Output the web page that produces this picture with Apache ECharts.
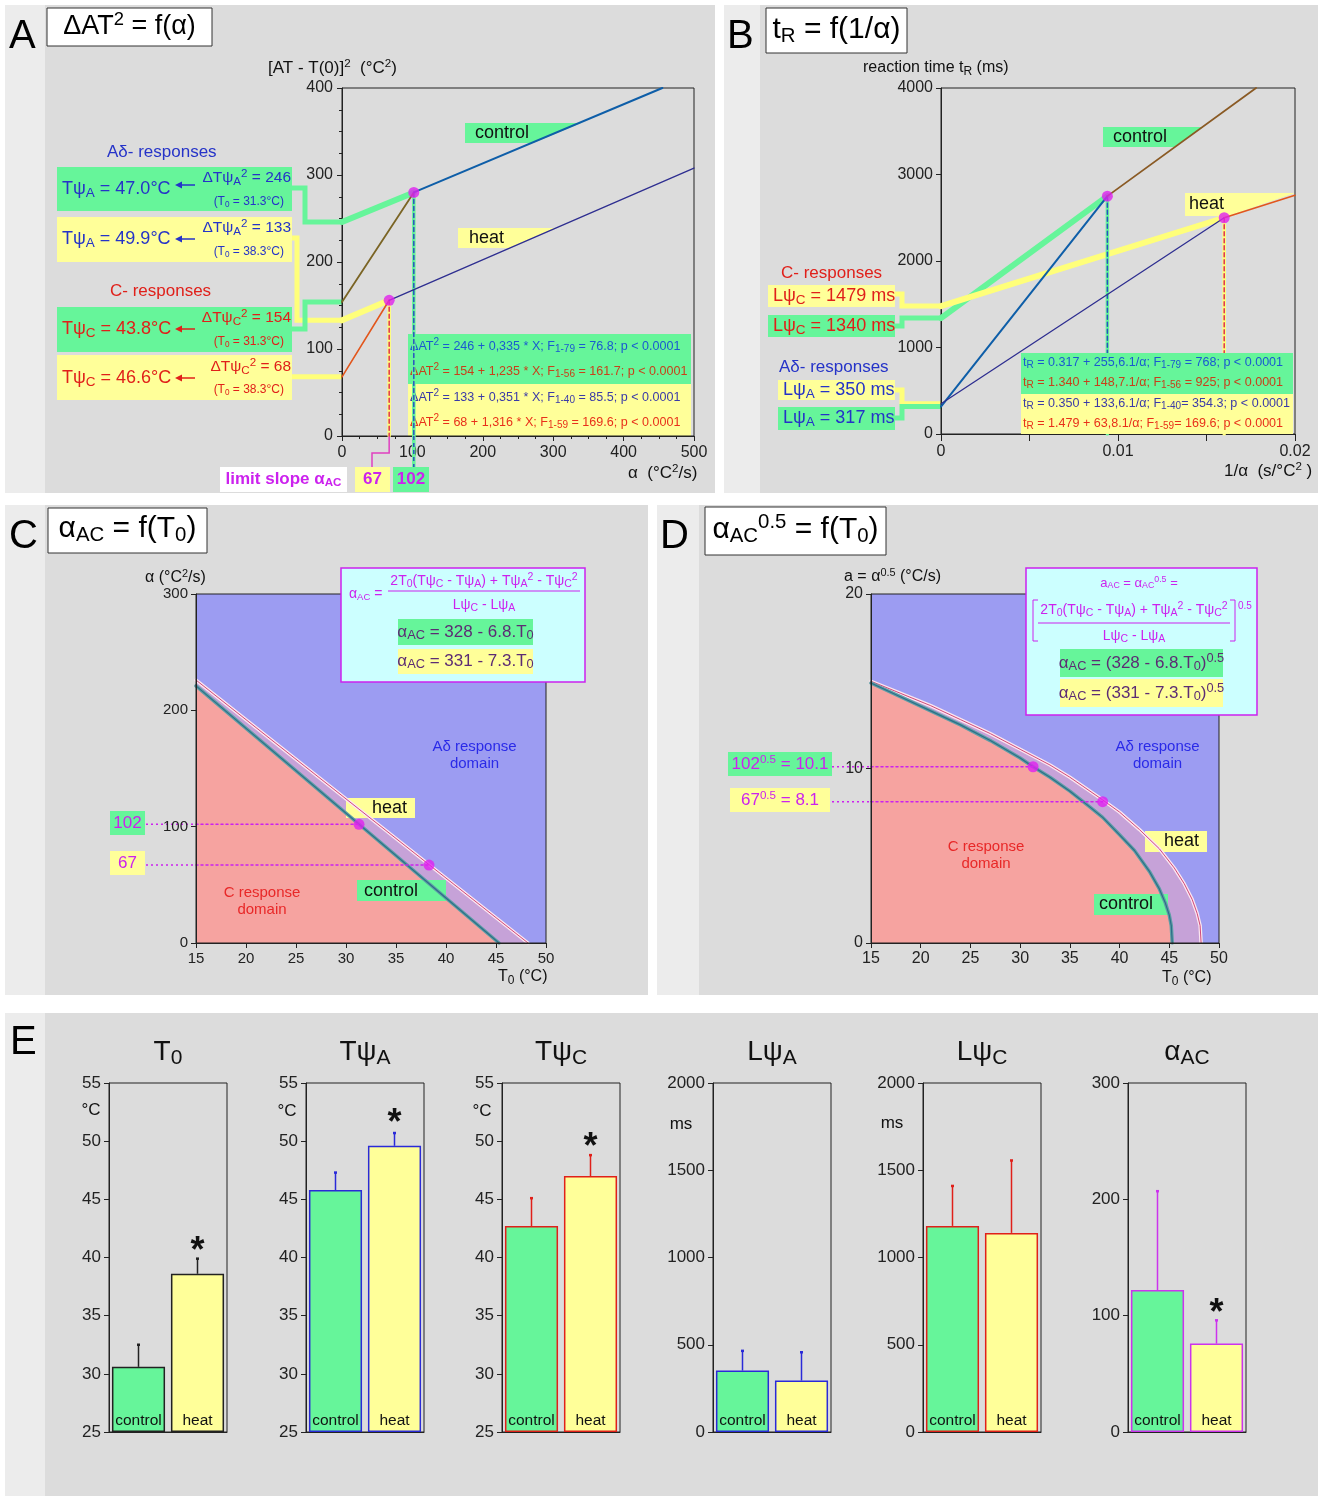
<!DOCTYPE html>
<html><head><meta charset="utf-8">
<script src="https://cdn.jsdelivr.net/npm/echarts@6/dist/echarts.min.js"></script>
<style>html,body{margin:0;padding:0;background:#fff}#c{width:1319px;height:1496px}</style>
</head><body><div id="c"></div>
<script>
// ================= DATA =================
// Panel A : ΔAT² vs α
const aCtrlC = [[0,154],[102,280]];
const aCtrlA = [[102,280],[455,400]];
const aHeatC = [[0,68],[67,156]];
const aHeatA = [[67,156],[500,308]];
const aCtrlAext = [[0,246],[102,280]];
const aHeatAext = [[0,133],[67,156]];
const aLimitPts = [[102,280],[67,156]];
const aIntercepts = [246,133,154,68];
// Panel B : tR vs 1/α
const bCtrlA = [[0,317],[0.0094,2750]];
const bCtrlC = [[0.0094,2750],[0.0178,4000]];
const bHeatA = [[0,350],[0.0160,2500]];
const bHeatC = [[0.0160,2500],[0.0200,2760]];
const bCtrlCext = [[0,1340],[0.0094,2750]];
const bHeatCext = [[0,1479],[0.0160,2500]];
const bLimitPts = [[0.0094,2750],[0.0160,2500]];
const bIntercepts = [1479,1340,350,317];
// Panel C : αAC vs T0
const cFull = [[15,300],[50,300]];
const cCtrl = [[15,221],[45.3,0]];
const cHeat = [[15,226],[48.2,0]];
const cLimitPts = [[31.3,102],[38.3,67]];
// Panel D : αAC^0.5 vs T0
const dFull = [[15,20],[50,20]];
const dCtrl = [[15,14.9],[18,14.1],[21,13.3],[24,12.5],[27,11.6],[30,10.6],[31.3,10.1],[33,9.5],[35,8.7],[37,7.8],[38.3,7.2],[40,6.2],[41.5,5.3],[43,4.1],[44,3.1],[44.6,2.3],[45,1.6],[45.2,1.0],[45.3,0]];
const dHeat = [[15,15.0],[18,14.3],[21,13.6],[24,12.8],[27,12.0],[30,11.1],[33,10.2],[35,9.5],[38.3,8.2],[40,7.5],[42,6.5],[44,5.4],[45.5,4.3],[46.5,3.4],[47.3,2.5],[47.8,1.7],[48.1,1.0],[48.2,0]];
const dLimitPts = [[31.3,10.1],[38.3,8.1]];
// Panel E : bar charts (mean, SD)
const eCats = ['control','heat'];
const eTitles = ['T{b|0}','Tψ{b|A}','Tψ{b|C}','Lψ{b|A}','Lψ{b|C}','α{b|AC}'];
const eMeanCtrl = [30.6, 45.8, 42.7, 352, 1181, 122];
const eMeanHeat = [38.6, 49.6, 47.0, 295, 1141, 76];
const eSdCtrl = [1.9, 1.5, 2.4, 113, 229, 85];
const eSdHeat = [1.3, 1.1, 1.8, 162, 415, 20];
const eStarHeat = [41.2, 52.2, 50.2, null, null, 109];
const eMin = [25,25,25,0,0,0];
const eMax = [55,55,55,2000,2000,300];
const eStep = [5,5,5,500,500,100];

// ================= STYLE =================
const FF = '"Liberation Sans", Arial, Helvetica, sans-serif';
const GREEN = '#66f59a', YELLOW = '#ffff99', YEL_L = '#ffff7a', MAG = '#cc22ee', MAGD = '#e020f0';
const BLUE_T = '#2533c8', RED_T = '#e0201a', AX = '#222', DP = '#5c2c74';
const eEdge = ['#222', '#2a2ad8', '#e0201a', '#2a2ad8', '#e0201a', '#cc33ee'];
const eLeft = [109, 306, 502, 713, 923, 1128];

const chart = echarts.init(document.getElementById('c'), null, {renderer:'canvas', width:1319, height:1496});

const plain = v => String(v);
function vaxis(o) {
  const base = {
    type:'value', splitLine:{show:false},
    axisLine:{show:true, lineStyle:{color:AX, width:1}},
    axisTick:{show:true, length:5, inside:false, lineStyle:{color:AX}},
    axisLabel:{show:true, fontSize:16, color:AX, fontFamily:FF, margin:8, formatter:plain}
  };
  const out = Object.assign({}, base, o);
  ['axisLine','axisTick','axisLabel'].forEach(k => { if (o[k]) out[k] = Object.assign({}, base[k], o[k]); });
  return out;
}
const minorT = {show:true, splitNumber:4, length:3, lineStyle:{color:AX}};
function fmtB(v) { const r = Math.round(v*100); return Math.abs(v*100 - r) < 1e-6 ? (r === 0 ? '0' : (r/100).toFixed(2)) : ''; }

function gridBox(left, top, width, height, z) {
  return {left, top, width, height, show:true, borderColor:'#222', borderWidth:1, backgroundColor:'transparent', containLabel:false, outerBoundsMode:'none', z: z || 2};
}
const grids = [
  gridBox(342, 88, 352, 348),
  gridBox(941, 88, 354, 346),
  gridBox(196, 594, 350, 349, 4),
  gridBox(871, 594, 348, 349, 4)
];
eLeft.forEach(l => grids.push(gridBox(l, 1083, 118, 349)));

const xAxes = [
  vaxis({gridIndex:0, min:0, max:500, interval:100, position:'bottom', minorTick:minorT, axisLabel:{margin:9}}),
  vaxis({gridIndex:0, min:0, max:500, interval:100, position:'top', axisLine:{show:false}, axisTick:{inside:true}, minorTick:minorT, axisLabel:{show:false}}),
  vaxis({gridIndex:1, min:0, max:0.02, interval:0.005, axisTick:{length:7}, axisLabel:{formatter:fmtB, margin:10}}),
  vaxis({gridIndex:2, min:15, max:50, interval:5, z:5, axisLabel:{fontSize:15, margin:8}}),
  vaxis({gridIndex:3, min:15, max:50, interval:5, z:5, axisLabel:{fontSize:16, margin:8}})
];
const yAxes = [
  vaxis({gridIndex:0, min:0, max:400, interval:100, position:'left', minorTick:minorT, axisLabel:{margin:9}}),
  vaxis({gridIndex:0, min:0, max:400, interval:100, position:'right', axisLine:{show:false}, axisTick:{inside:true}, minorTick:minorT, axisLabel:{show:false}}),
  vaxis({gridIndex:1, min:0, max:4000, interval:1000, axisLabel:{margin:8}}),
  vaxis({gridIndex:2, min:0, max:300, interval:100, z:5, axisLabel:{fontSize:15}}),
  vaxis({gridIndex:3, min:0, max:20, interval:10, z:5, axisLabel:{fontSize:16}})
];
for (let i = 0; i < 6; i++) {
  xAxes.push({type:'category', gridIndex:4+i, data:eCats, z:10,
    axisLine:{show:true, lineStyle:{color:AX}}, axisTick:{show:false}, splitLine:{show:false},
    axisLabel:{show:true, inside:true, interval:0, hideOverlap:false, margin:3, fontSize:15.5, color:'#111', fontFamily:FF}});
  yAxes.push(vaxis({gridIndex:4+i, min:eMin[i], max:eMax[i], interval:eStep[i], startValue:eMin[i], axisLabel:{fontSize:17, margin:8}}));
}

function L(xi, yi, data, color, width, o) {
  o = o || {};
  const s = {type:'line', xAxisIndex:xi, yAxisIndex:yi, data, showSymbol:false, symbol:'none', silent:true,
    z: o.z != null ? o.z : 3, smooth:false, clip:true,
    lineStyle:{color, width, type:o.dash || 'solid', cap:'round'}};
  if (o.area) s.areaStyle = {color:o.area, opacity:1};
  return s;
}
function S(xi, yi, data, size) {
  return {type:'scatter', xAxisIndex:xi, yAxisIndex:yi, data, symbolSize:size, itemStyle:{color:MAGD}, z:6, silent:true};
}
const vert = p => [[p[0], p[1]], [p[0], 0]];
const horiz = (x0, p) => [[x0, p[1]], [p[0], p[1]]];

const series = [
  // A
  L(0,0,aCtrlAext, GREEN, 6, {z:2}),
  L(0,0,aHeatAext, YEL_L, 6, {z:2}),
  L(0,0,vert(aLimitPts[0]), GREEN, 3.5, {z:2}),
  L(0,0,vert(aLimitPts[0]), '#2a50c0', 1.5, {dash:[4,3]}),
  L(0,0,vert(aLimitPts[1]), YEL_L, 3.5, {z:2}),
  L(0,0,vert(aLimitPts[1]), '#e03050', 1.5, {dash:[4,3]}),
  L(0,0,aCtrlC, '#7a6424', 1.8),
  L(0,0,aCtrlA, '#0e5ea8', 2),
  L(0,0,aHeatC, '#e2561c', 1.6),
  L(0,0,aHeatA, '#2e2e90', 1.3),
  S(0,0,aLimitPts, 11),
  // B
  L(2,2,bCtrlCext, GREEN, 6, {z:2}),
  L(2,2,bHeatCext, YEL_L, 6, {z:2}),
  L(2,2,vert(bLimitPts[0]), GREEN, 3.5, {z:2}),
  L(2,2,vert(bLimitPts[0]), '#2a50c0', 1.5, {dash:[4,3]}),
  L(2,2,vert(bLimitPts[1]), YEL_L, 3.5, {z:2}),
  L(2,2,vert(bLimitPts[1]), '#e03050', 1.5, {dash:[4,3]}),
  L(2,2,bCtrlA, '#0e5ea8', 2),
  L(2,2,bCtrlC, '#8a5a24', 1.8),
  L(2,2,bHeatA, '#2e2e90', 1.3),
  L(2,2,bHeatC, '#e2561c', 1.6),
  S(2,2,bLimitPts, 11),
  // C
  L(3,3,cFull, '#9c9cf2', 0, {area:'#9c9cf2', z:1}),
  L(3,3,cHeat, '#c6a2d8', 0, {area:'#c6a2d8', z:1}),
  L(3,3,cCtrl, '#f6a3a0', 0, {area:'#f6a3a0', z:1}),
  L(3,3,cHeat, '#fbe6f0', 3.5),
  L(3,3,cHeat, '#d04a7a', 1),
  L(3,3,cCtrl, '#5e9ea6', 3.5),
  L(3,3,cCtrl, '#2e6e88', 1.2),
  L(3,3,horiz(15, cLimitPts[0]), MAG, 1.5, {dash:[2,3]}),
  L(3,3,horiz(15, cLimitPts[1]), MAG, 1.5, {dash:[2,3]}),
  S(3,3,cLimitPts, 11),
  // D
  L(4,4,dFull, '#9c9cf2', 0, {area:'#9c9cf2', z:1}),
  L(4,4,dHeat, '#c6a2d8', 0, {area:'#c6a2d8', z:1}),
  L(4,4,dCtrl, '#f6a3a0', 0, {area:'#f6a3a0', z:1}),
  L(4,4,dHeat, '#fbe6f0', 3.5),
  L(4,4,dHeat, '#d04a7a', 1),
  L(4,4,dCtrl, '#5e9ea6', 3.5),
  L(4,4,dCtrl, '#2e6e88', 1.2),
  L(4,4,horiz(15, dLimitPts[0]), MAG, 1.5, {dash:[2,3]}),
  L(4,4,horiz(15, dLimitPts[1]), MAG, 1.5, {dash:[2,3]}),
  S(4,4,dLimitPts, 11)
];

function errItem(color) {
  return function (params, api) {
    const b = api.coord([api.value(0), api.value(1)]);
    const t = api.coord([api.value(0), api.value(2)]);
    return {type:'group', children:[
      {type:'line', shape:{x1:b[0], y1:b[1], x2:b[0], y2:t[1]}, style:{stroke:color, lineWidth:1.5}},
      {type:'line', shape:{x1:b[0]-1.5, y1:t[1], x2:b[0]+1.5, y2:t[1]}, style:{stroke:color, lineWidth:2.5}}
    ]};
  };
}
for (let i = 0; i < 6; i++) {
  series.push({type:'bar', xAxisIndex:5+i, yAxisIndex:5+i, barWidth:'90%', z:2, silent:true,
    itemStyle:{borderColor:eEdge[i], borderWidth:1.5},
    data:[{value:eMeanCtrl[i], itemStyle:{color:GREEN}}, {value:eMeanHeat[i], itemStyle:{color:YELLOW}}]});
  series.push({type:'custom', xAxisIndex:5+i, yAxisIndex:5+i, z:3, silent:true, renderItem:errItem(eEdge[i]),
    data:[[0, eMeanCtrl[i], eMeanCtrl[i]+eSdCtrl[i]], [1, eMeanHeat[i], eMeanHeat[i]+eSdHeat[i]]]});
  if (eStarHeat[i] != null) {
    series.push({type:'custom', xAxisIndex:5+i, yAxisIndex:5+i, z:4, silent:true,
      renderItem:function (params, api) {
        const p = api.coord([api.value(0), api.value(1)]);
        return {type:'text', x:p[0], y:p[1] + 9, style:{text:'*', fill:'#111', fontSize:36, fontFamily:FF, fontWeight:'bold', textAlign:'center', textVerticalAlign:'middle'}};
      },
      data:[[1, eStarHeat[i]]]});
  }
}

chart.setOption({animation:false, backgroundColor:'#ffffff', grid:grids, xAxis:xAxes, yAxis:yAxes, series});

// ================= GRAPHICS (annotations) =================
const px = (xi, v) => chart.convertToPixel({xAxisIndex:xi}, v);
const py = (yi, v) => chart.convertToPixel({yAxisIndex:yi}, v);
const G = [];
function R(x, y, w, h, fill, z, stroke, lw) {
  G.push({type:'rect', shape:{x, y, width:w, height:h}, z: z, silent:true,
    style:{fill, stroke: stroke || null, lineWidth: lw || 0}});
}
function PG(points, fill, z) { G.push({type:'polygon', shape:{points}, z, silent:true, style:{fill}}); }
function PL(points, stroke, lw, z, dash) {
  G.push({type:'polyline', shape:{points}, z, silent:true, style:{stroke, lineWidth:lw, fill:null, lineDash: dash || null, lineJoin:'miter'}});
}
function T(x, y, text, size, color, o) {
  o = o || {};
  const w = o.bold ? 'bold' : 'normal';
  const s = Math.round(size * (o.sr || 0.68) * 10) / 10;
  const rich = {
    b:{fontSize:s, fontFamily:FF, fontWeight:w, fill:color, padding:[Math.round(size*0.42),0,0,0]},
    p:{fontSize:s, fontFamily:FF, fontWeight:w, fill:color, padding:[0,0,Math.round(size*0.5),0]}
  };
  const el = {type:'text', x, y, z: o.z != null ? o.z : 20, silent:true,
    style:{text, fill:color, fontSize:size, fontFamily:FF, fontWeight:w,
      textAlign:o.align || 'left', textVerticalAlign:'middle', rich}};
  if (o.sx) el.scaleX = o.sx;
  G.push(el);
}
function arrow(xHead, xTail, y, color) {
  PL([[xTail, y], [xHead + 5, y]], color, 1.5, 20);
  PG([[xHead, y], [xHead + 7, y - 3.5], [xHead + 7, y + 3.5]], color, 20);
}

// panels
R(5,5,710,488,'#dcdcdc',-20); R(5,5,40,488,'#ececec',-19);
R(724,5,594,488,'#dcdcdc',-20); R(724,5,36,488,'#ececec',-19);
R(5,505,643,490,'#dcdcdc',-20); R(5,505,40,490,'#ececec',-19);
R(657,505,661,490,'#dcdcdc',-20); R(657,505,42,490,'#ececec',-19);
R(5,1013,1313,483,'#dcdcdc',-20); R(5,1013,40,483,'#ececec',-19);

// letters + titles
T(9,37,'A',40,'#000'); T(727,37,'B',40,'#000'); T(9,537,'C',40,'#000'); T(660,537,'D',40,'#000'); T(10,1043,'E',40,'#000');
R(47,8,165,38,'#fff',5,'#333',1); T(129.5,27,'ΔAT{p|2} = f(α)',27,'#000',{align:'center'});
R(766,8,141,45,'#fff',5,'#333',1); T(836.5,30,'t{b|R} = f(1/α)',30,'#000',{align:'center'});
R(48,508,159,45,'#fff',5,'#333',1); T(127.5,529,'α{b|AC} = f(T{b|0})',30,'#000',{align:'center'});
R(705,507,181,48,'#fff',5,'#333',1); T(795.5,530,'α{b|AC}{p|0.5} = f(T{b|0})',30,'#000',{align:'center'});

// ---------- Panel A ----------
T(268,68,'[AT - T(0)]{p|2}  (°C{p|2})',17,'#111');
T(628,473,'α  (°C{p|2}/s)',17,'#111');
const ax0 = px(0,0), ay0 = py(0,0);
PL([[292,188],[305,188],[305,py(0,aIntercepts[0])],[ax0,py(0,aIntercepts[0])]], GREEN, 5, 1);
PL([[292,238],[297,238],[297,py(0,aIntercepts[1])],[ax0,py(0,aIntercepts[1])]], YEL_L, 5, 1);
PL([[292,329],[305,329],[305,py(0,aIntercepts[2])],[ax0,py(0,aIntercepts[2])]], GREEN, 5, 1);
PL([[292,py(0,aIntercepts[3])],[ax0,py(0,aIntercepts[3])]], YEL_L, 5, 1);
T(107,152,'Aδ- responses',17,BLUE_T);
R(57,167,235,44,GREEN,2); R(57,217,235,45,YELLOW,2);
T(110,291,'C- responses',17,RED_T);
R(57,307,235,45,GREEN,2); R(57,355,235,45,YELLOW,2);
const rowsA = [
  ['Tψ{b|A} = 47.0°C','ΔTψ{b|A}{p|2} = 246','(T{b|0} = 31.3°C)',BLUE_T,189,185,178,202],
  ['Tψ{b|A} = 49.9°C','ΔTψ{b|A}{p|2} = 133','(T{b|0} = 38.3°C)',BLUE_T,239,239,228,252],
  ['Tψ{b|C} = 43.8°C','ΔTψ{b|C}{p|2} = 154','(T{b|0} = 31.3°C)',RED_T,329,329,318,342],
  ['Tψ{b|C} = 46.6°C','ΔTψ{b|C}{p|2} = 68','(T{b|0} = 38.3°C)',RED_T,378,378,367,390]
];
rowsA.forEach(r => {
  T(62,r[4],r[0],18,r[3],{sr:0.75});
  arrow(175,195,r[5],r[3]);
  T(291,r[6],r[1],15.5,r[3],{align:'right',sr:0.75});
  T(284,r[7],r[2],12,r[3],{align:'right'});
});
PG([[465,123],[581,123],[533,143],[465,143]], GREEN, 1);
T(475,133,'control',18,'#111',{z:4});
PG([[458,228],[555,228],[509,248],[458,248]], YELLOW, 1);
T(469,238,'heat',18,'#111',{z:4});
R(408,334,283,50,GREEN,1); R(408,384,283,52,YELLOW,1);
const eqA = [
  ['ΔAT{p|2} = 246 + 0,335 * X; F{b|1-79} = 76.8; p < 0.0001','#1a5ad0',346],
  ['ΔAT{p|2} = 154 + 1,235 * X; F{b|1-56} = 161.7; p < 0.0001','#c8401a',371],
  ['ΔAT{p|2} = 133 + 0,351 * X; F{b|1-40} = 85.5; p < 0.0001','#3a3aa8',397],
  ['ΔAT{p|2} = 68 + 1,316 * X; F{b|1-59} = 169.6; p < 0.0001','#e8301a',422]
];
eqA.forEach(e => T(410,e[2],e[0],13.5,e[1],{z:2,sx:0.93,sr:0.8}));
const x102 = px(0,aLimitPts[0][0]), x67 = px(0,aLimitPts[1][0]);
PL([[x102,ay0],[x102,467]], GREEN, 3.5, 3);
PL([[x102,ay0],[x102,467]], '#2a50c0', 1.5, 3, [4,3]);
PL([[x67,ay0],[x67,453],[372,453],[372,467]], '#e040c0', 1.5, 3);
R(220,467,127,25,'#fff',4); T(283.5,479.5,'limit slope α{b|AC}',17,MAG,{bold:true,align:'center'});
R(355,467,35,25,YELLOW,4); T(372.5,479.5,'67',17,MAG,{bold:true,align:'center'});
R(393,467,36,25,GREEN,4); T(411,479.5,'102',17,MAG,{bold:true,align:'center'});

// ---------- Panel B ----------
T(863,68,'reaction time t{b|R} (ms)',16,'#111',{sr:0.75});
T(1224,471,'1/α  (s/°C{p|2} )',17,'#111');
const bx0 = px(2,0);
PL([[895,294],[902,294],[902,py(2,bIntercepts[0])],[bx0,py(2,bIntercepts[0])]], YEL_L, 5, 1);
PL([[895,326],[902,326],[902,py(2,bIntercepts[1])],[bx0,py(2,bIntercepts[1])]], GREEN, 5, 1);
PL([[895,390],[902,390],[902,py(2,bIntercepts[2])],[bx0,py(2,bIntercepts[2])]], YEL_L, 5, 1);
PL([[895,418],[902,418],[902,py(2,bIntercepts[3])],[bx0,py(2,bIntercepts[3])]], GREEN, 5, 1);
T(781,273,'C- responses',17,RED_T);
R(768,285,127,22,YELLOW,2); T(773,296,'Lψ{b|C} = 1479 ms',18,RED_T,{sr:0.75});
R(768,315,127,22,GREEN,2); T(773,326,'Lψ{b|C} = 1340 ms',18,RED_T,{sr:0.75});
T(779,367,'Aδ- responses',17,BLUE_T);
R(778,380,117,20,YELLOW,2); T(783,390,'Lψ{b|A} = 350 ms',18,BLUE_T,{sr:0.75});
R(778,407,117,23,GREEN,2); T(783,418,'Lψ{b|A} = 317 ms',18,BLUE_T,{sr:0.75});
PG([[1103,127],[1203,127],[1174,147],[1103,147]], GREEN, 1);
T(1113,137,'control',18,'#111',{z:4});
PG([[1185,193],[1295,193],[1228,216],[1185,216]], YELLOW, 1);
T(1189,204,'heat',18,'#111',{z:4});
R(1021,353,272,41,GREEN,10); R(1021,394,272,40,YELLOW,10);
const eqB = [
  ['t{b|R} = 0.317 + 255,6.1/α; F{b|1-79} = 768; p < 0.0001','#1a5ad0',362],
  ['t{b|R} = 1.340 + 148,7.1/α; F{b|1-56} = 925; p < 0.0001','#c8401a',382],
  ['t{b|R} = 0.350 + 133,6.1/α; F{b|1-40}= 354.3; p < 0.0001','#3a3aa8',403],
  ['t{b|R} = 1.479 + 63,8.1/α; F{b|1-59}= 169.6; p < 0.0001','#e8301a',423]
];
eqB.forEach(e => T(1023,e[2],e[0],13.5,e[1],{z:11,sx:0.93,sr:0.8}));

// ---------- Panel C ----------
T(145,578,'α (°C{p|2}/s)',16,'#111');
T(498,977,'T{b|0} (°C)',16,'#111',{sr:0.75});
const cx0 = px(3,15);
R(110,811,35,24,GREEN,5); T(127.5,823,'102',17,MAG,{align:'center'});
R(110,851,35,24,YELLOW,5); T(127.5,863,'67',17,MAG,{align:'center'});
PL([[146,py(3,cLimitPts[0][1])],[cx0,py(3,cLimitPts[0][1])]], MAG, 1.5, 3, [2,3]);
PL([[146,py(3,cLimitPts[1][1])],[cx0,py(3,cLimitPts[1][1])]], MAG, 1.5, 3, [2,3]);
R(346,798,69,20,YELLOW,2); T(372,808,'heat',18,'#111',{z:4});
R(357,880,89,21,GREEN,2); T(364,891,'control',18,'#111',{z:4});
T(474.5,747,'Aδ response',15,'#2a2ae8',{align:'center',z:4});
T(474.5,764,'domain',15,'#2a2ae8',{align:'center',z:4});
T(262,893,'C response',15,'#e82828',{align:'center',z:4});
T(262,910,'domain',15,'#e82828',{align:'center',z:4});
R(341,568,244,114,'#ccffff',10,MAG,1.5);
T(349,594,'α{b|AC} =',14,MAG,{z:11});
T(484,581,'2T{b|0}(Tψ{b|C} - Tψ{b|A}) + Tψ{b|A}{p|2} - Tψ{b|C}{p|2}',14,MAG,{align:'center',z:11,sr:0.75});
PL([[388,591],[580,591]], MAG, 1.2, 11);
T(484,605,'Lψ{b|C} - Lψ{b|A}',14,MAG,{align:'center',z:11,sr:0.75});
R(398,619,135,26,GREEN,11); T(465.5,632,'α{b|AC} = 328 - 6.8.T{b|0}',17,DP,{align:'center',z:12,sr:0.75});
R(398,649,135,25,YELLOW,11); T(465.5,661,'α{b|AC} = 331 - 7.3.T{b|0}',17,DP,{align:'center',z:12,sr:0.75});

// ---------- Panel D ----------
T(844,577,'a = α{p|0.5} (°C/s)',16,'#111');
T(1162,978,'T{b|0} (°C)',16,'#111',{sr:0.75});
const dx0 = px(4,15);
R(728,752,104,24,GREEN,5); T(780,764,'102{p|0.5} = 10.1',17,MAG,{align:'center'});
R(730,788,100,24,YELLOW,5); T(780,800,'67{p|0.5} = 8.1',17,MAG,{align:'center'});
PL([[832,py(4,dLimitPts[0][1])],[dx0,py(4,dLimitPts[0][1])]], MAG, 1.5, 3, [2,3]);
PL([[832,py(4,dLimitPts[1][1])],[dx0,py(4,dLimitPts[1][1])]], MAG, 1.5, 3, [2,3]);
R(1145,831,62,21,YELLOW,2); T(1164,841,'heat',18,'#111',{z:4});
R(1094,894,74,21,GREEN,2); T(1099,904,'control',18,'#111',{z:4});
T(1157.5,747,'Aδ response',15,'#2a2ae8',{align:'center',z:4});
T(1157.5,764,'domain',15,'#2a2ae8',{align:'center',z:4});
T(986,847,'C response',15,'#e82828',{align:'center',z:4});
T(986,864,'domain',15,'#e82828',{align:'center',z:4});
R(1026,568,231,147,'#ccffff',10,MAG,1.5);
T(1139,583,'a{b|AC} = α{b|AC}{p|0.5} =',13,MAG,{align:'center',z:11});
PL([[1038,600],[1033,600],[1033,641],[1038,641]], MAG, 1, 11);
PL([[1230,600],[1235,600],[1235,641],[1230,641]], MAG, 1, 11);
T(1238,606,'0.5',10,MAG,{z:11});
T(1134,610,'2T{b|0}(Tψ{b|C} - Tψ{b|A}) + Tψ{b|A}{p|2} - Tψ{b|C}{p|2}',14,MAG,{align:'center',z:11,sr:0.75});
PL([[1038,623],[1230,623]], MAG, 1.2, 11);
T(1134,636,'Lψ{b|C} - Lψ{b|A}',14,MAG,{align:'center',z:11,sr:0.75});
R(1060,649,163,28,GREEN,11); T(1141.5,663,'α{b|AC} = (328 - 6.8.T{b|0}){p|0.5}',17,DP,{align:'center',z:12,sr:0.75});
R(1060,679,163,28,YELLOW,11); T(1141.5,693,'α{b|AC} = (331 - 7.3.T{b|0}){p|0.5}',17,DP,{align:'center',z:12,sr:0.75});

// ---------- Panel E ----------
eLeft.forEach((l, i) => T(l + 59, 1052, eTitles[i], 28, '#111', {align:'center', sr:0.75}));
T(91,1110,'°C',17,'#111',{align:'center'});
T(287,1111,'°C',17,'#111',{align:'center'});
T(482,1111,'°C',17,'#111',{align:'center'});
T(681,1124,'ms',17,'#111',{align:'center'});
T(892,1123,'ms',17,'#111',{align:'center'});

chart.setOption({graphic:{elements:G}});
</script>
</body></html>
